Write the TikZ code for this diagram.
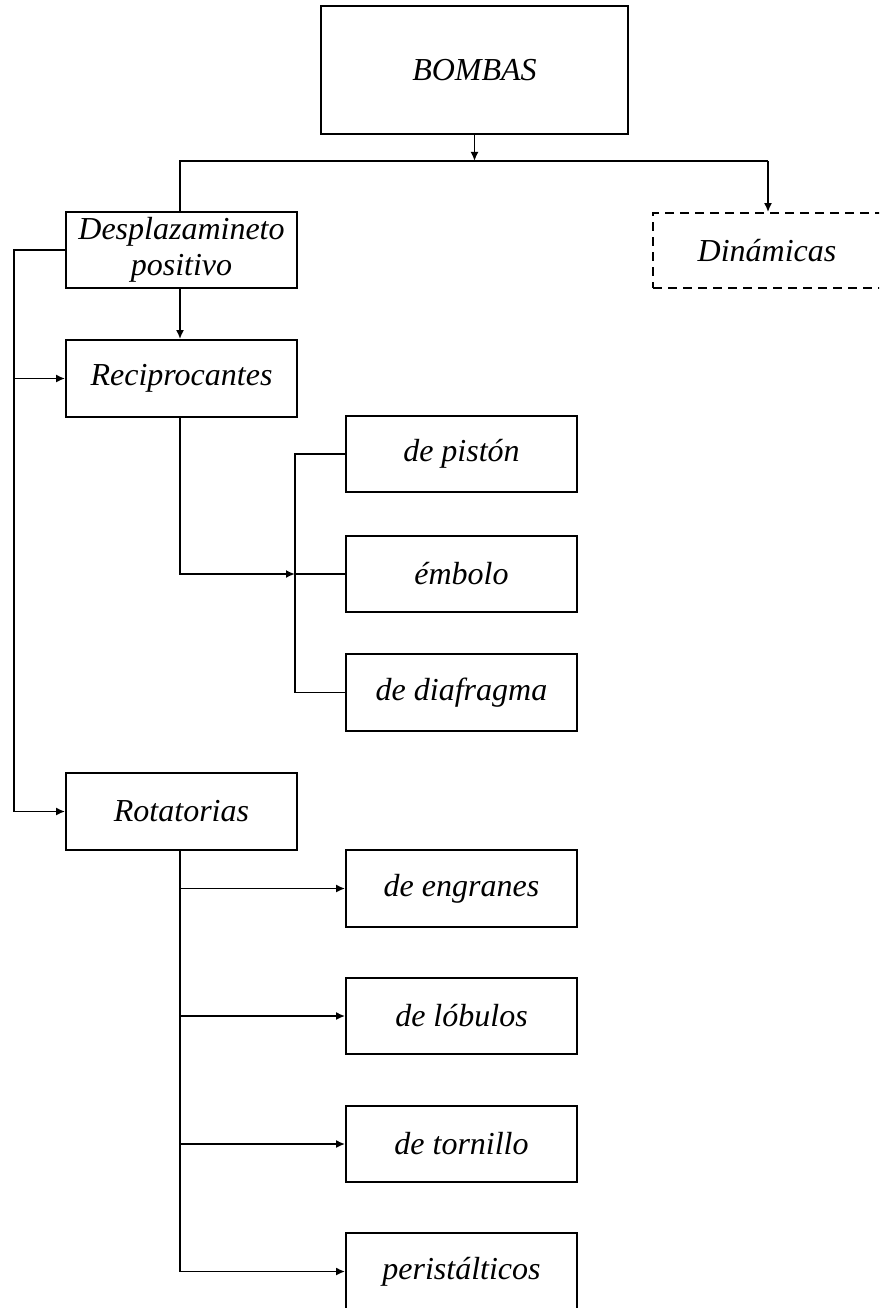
\documentclass[tikz,border=0pt]{standalone}
\usepackage{fontspec}
\setmainfont{Liberation Serif}
\usetikzlibrary{arrows.meta}
\begin{document}
\begin{tikzpicture}[x=1pt,y=-1pt,
  every node/.style={font=\fontsize{32}{36}\selectfont\itshape},
  box/.style={draw, line width=1.8pt, inner sep=0pt, align=center},
  conn/.style={line width=1.8pt},
  arr/.style={conn, -{Latex[length=9pt,width=8pt]}}]
\useasboundingbox (0,0) rectangle (879,1308);
\clip (0,0) rectangle (879,1308);

% top level
\node[box, minimum width=307pt, minimum height=128pt] (bombas) at (474.5,70) {BOMBAS};
\node[box, minimum width=231pt, minimum height=76pt] (desp) at (181.5,250) {Desplazamineto\\positivo};
\node[box, dashed, dash pattern=on 9pt off 6pt, minimum width=228pt, minimum height=75pt] (din) at (767,250.5) {Dinámicas};

% reciprocating branch
\node[box, minimum width=231pt, minimum height=77pt] (recip) at (181.5,378.5) {Reciprocantes};
\node[box, minimum width=231pt, minimum height=76pt] (piston) at (461.5,454) {de pistón};
\node[box, minimum width=231pt, minimum height=76pt] (embolo) at (461.5,574) {émbolo};
\node[box, minimum width=231pt, minimum height=77pt] (diaf) at (461.5,692.5) {de diafragma};

% rotary branch
\node[box, minimum width=231pt, minimum height=77pt] (rot) at (181.5,811.5) {Rotatorias};
\node[box, minimum width=231pt, minimum height=77pt] (engr) at (461.5,888.5) {de engranes};
\node[box, minimum width=231pt, minimum height=76pt] (lob) at (461.5,1016) {de lóbulos};
\node[box, minimum width=231pt, minimum height=76pt] (torn) at (461.5,1144) {de tornillo};
\node[box, minimum width=231pt, minimum height=77pt] (peri) at (461.5,1271.5) {peristálticos};

% helper points
\coordinate (split) at (474.5,161);
\coordinate (bus) at (14,250);
\coordinate (bracket) at (295,574);

% connectors
\draw[arr] (bombas.south) -- (split);
\draw[conn] (desp.north -| 180,0) |- (split) -| (768,161);
\draw[arr] (768,161) -- (din.north -| 768,0);
\draw[arr] (desp.south -| 180,0) -- (recip.north -| 180,0);
\draw[conn] (desp.west) -- (bus) -- (bus |- rot.west);
\draw[arr] (bus |- rot.west) -- (rot.west);
\draw[arr] (bus |- recip.west) -- (recip.west);

\draw[arr] (recip.south -| 180,0) |- (bracket);
\draw[conn] (piston.west) -| (bracket) |- (diaf.west);
\draw[conn] (bracket) -- (embolo.west);

\draw[conn] (rot.south -| 180,0) -- (180,1271.5);
\draw[arr] (180,888.5) -- (engr.west);
\draw[arr] (180,1016) -- (lob.west);
\draw[arr] (180,1144) -- (torn.west);
\draw[arr] (180,1271.5) -- (peri.west);
\end{tikzpicture}
\end{document}
